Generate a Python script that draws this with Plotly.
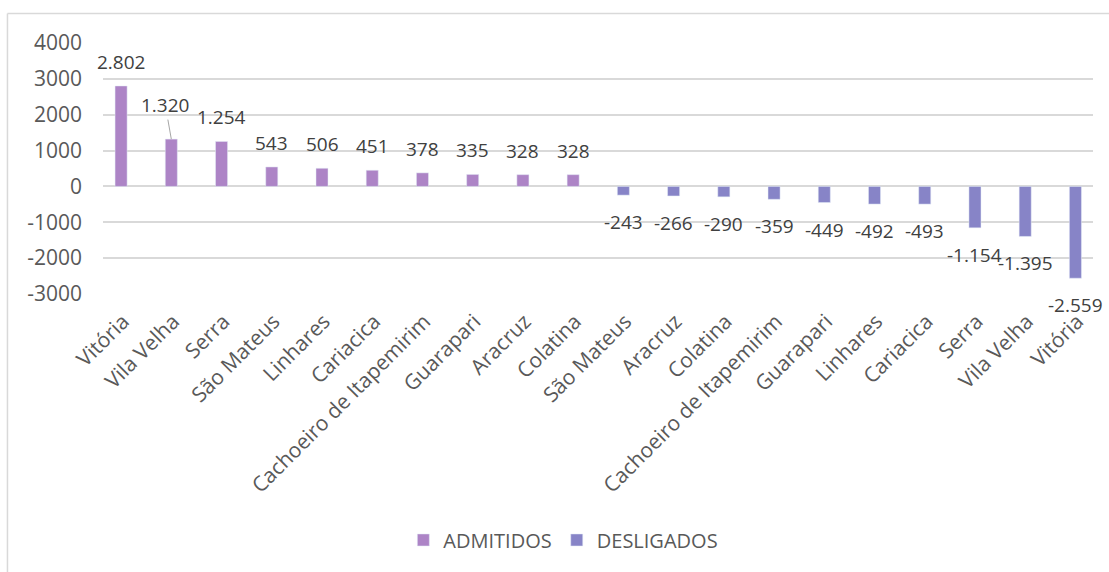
import plotly.graph_objects as go

# ---- data ----
cat_admitidos = ["Vitória", "Vila Velha", "Serra", "São Mateus", "Linhares", "Cariacica",
                 "Cachoeiro de Itapemirim", "Guarapari", "Aracruz", "Colatina"]
val_admitidos = [2802, 1320, 1254, 543, 506, 451, 378, 335, 328, 328]

cat_desligados = ["São Mateus", "Aracruz", "Colatina", "Cachoeiro de Itapemirim", "Guarapari",
                  "Linhares", "Cariacica", "Serra", "Vila Velha", "Vitória"]
val_desligados = [-243, -266, -290, -359, -449, -492, -493, -1154, -1395, -2559]

y_ticks = [-3000, -2000, -1000, 0, 1000, 2000, 3000, 4000]

COL_ADM = "#AD84C6"
COL_DES = "#8784C7"
FONT = "Open Sans"

x_adm = list(range(len(cat_admitidos)))
x_des = list(range(len(cat_admitidos), len(cat_admitidos) + len(cat_desligados)))
all_cats = cat_admitidos + cat_desligados


def fmt(v):
    return f"{v:,}".replace(",", ".")


fig = go.Figure()
fig.add_trace(go.Bar(x=x_adm, y=val_admitidos, name="ADMITIDOS", marker_color=COL_ADM,
                     width=0.24, hoverinfo="skip"))
fig.add_trace(go.Bar(x=x_des, y=val_desligados, name="DESLIGADOS", marker_color=COL_DES,
                     width=0.24, hoverinfo="skip"))

annotations = []
for xi, v in zip(x_adm + x_des, val_admitidos + val_desligados):
    if xi == 1:
        annotations.append(dict(x=xi, y=v, text=fmt(v), showarrow=True, ax=-6, ay=-34,
                                arrowhead=0, arrowwidth=1, arrowcolor="#A6A6A6", standoff=0,
                                font=dict(family=FONT, size=19, color="#404040")))
    else:
        annotations.append(dict(x=xi, y=v, text=fmt(v), showarrow=False,
                                yanchor="middle", yshift=24 if v > 0 else -27,
                                font=dict(family=FONT, size=19, color="#404040")))

fig.update_layout(
    width=1109, height=572,
    margin=dict(l=103, r=16, t=43, b=278),
    paper_bgcolor="white", plot_bgcolor="white",
    barmode="overlay",
    showlegend=True,
    legend=dict(orientation="h", x=0.465, xanchor="center", y=-0.98, yanchor="middle",
                font=dict(family=FONT, size=20, color="#595959"), itemwidth=30),
    annotations=annotations,
    shapes=[
        dict(type="line", xref="paper", yref="paper", x0=-0.0965, x1=-0.0965, y0=1.1175, y1=-1.2,
             line=dict(color="#D9D9D9", width=1.5)),
        dict(type="line", xref="paper", yref="paper", x0=-0.0965, x1=1.1, y0=1.1175, y1=1.1175,
             line=dict(color="#D9D9D9", width=1.5)),
    ],
)

fig.update_xaxes(
    range=[-0.36, 19.35], tickmode="array", tickvals=x_adm + x_des, ticktext=all_cats,
    tickangle=-45, showgrid=False, zeroline=False, showline=False, ticks="",
    tickfont=dict(family=FONT, size=21, color="#595959"),
    ticklabelstandoff=10, ticklabelshift=2,
)
fig.update_yaxes(
    range=[-3000, 4000], tickmode="array", tickvals=y_ticks, ticktext=[str(t) for t in y_ticks],
    showgrid=True, gridcolor="#D9D9D9", gridwidth=1.5, zeroline=False, showline=False,
    tickfont=dict(family=FONT, size=21, color="#595959"), ticklabelstandoff=20,
)

fig.write_html("out.html", config={"displayModeBar": False},
               post_script="document.body.style.margin='0';document.body.style.overflow='hidden';")
